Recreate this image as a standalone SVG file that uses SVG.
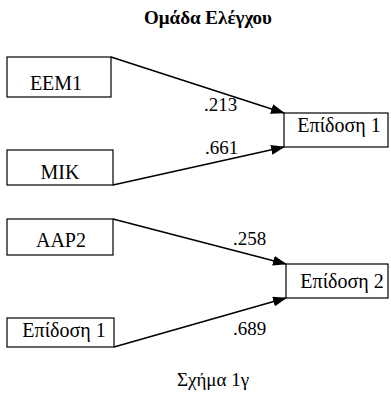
<svg xmlns="http://www.w3.org/2000/svg" width="391" height="394" viewBox="0 0 391 394">
<style>
text{font-family:"Liberation Serif",serif;fill:#000}
.node rect{fill:#fff;stroke:#000;stroke-width:1.2}
.lbl{font-size:20px;text-anchor:middle}
.w{font-size:19px}
.edge{stroke:#000;stroke-width:1.6;fill:none;marker-end:url(#ah)}
</style>
<defs>
<marker id="ah" markerWidth="14" markerHeight="10" refX="13" refY="5" orient="auto" markerUnits="userSpaceOnUse">
<path d="M0,0 L14,5 L0,10 Z" fill="#000"/>
</marker>
</defs>
<rect width="391" height="394" fill="#fff"/>
<text x="208" y="24" font-size="19" font-weight="bold" text-anchor="middle">Ομάδα Ελέγχου</text>
<g id="connectors">
<line class="edge" x1="111" y1="57" x2="284" y2="113"/>
<line class="edge" x1="113" y1="185" x2="284" y2="147"/>
<line class="edge" x1="113" y1="219" x2="286" y2="264"/>
<line class="edge" x1="114" y1="347" x2="286" y2="298"/>
</g>
<g id="w1"><text class="w" x="204" y="111">.213</text></g>
<g id="w2"><text class="w" x="205" y="154">.661</text></g>
<g id="w3"><text class="w" x="233" y="245">.258</text></g>
<g id="w4"><text class="w" x="233" y="335">.689</text></g>
<g id="eem1" class="node"><rect x="7" y="57" width="104" height="40"/><text class="lbl" x="56" y="90">EEM1</text></g>
<g id="mik" class="node"><rect x="7" y="150" width="106" height="35"/><text class="lbl" x="60" y="179">MIK</text></g>
<g id="aap2" class="node"><rect x="7" y="219" width="106" height="36"/><text class="lbl" x="61" y="247">AAP2</text></g>
<g id="epid1b" class="node"><rect x="7" y="318" width="107" height="29"/><text class="lbl" x="64" y="337">Επίδοση 1</text></g>
<g id="epid1" class="node"><rect x="284" y="113" width="104" height="34"/><text class="lbl" x="339" y="132">Επίδοση 1</text></g>
<g id="epid2" class="node"><rect x="286" y="264" width="102" height="34"/><text class="lbl" x="342" y="288">Επίδοση 2</text></g>
<text x="213" y="386" font-size="19" text-anchor="middle">Σχήμα 1γ</text>
</svg>
